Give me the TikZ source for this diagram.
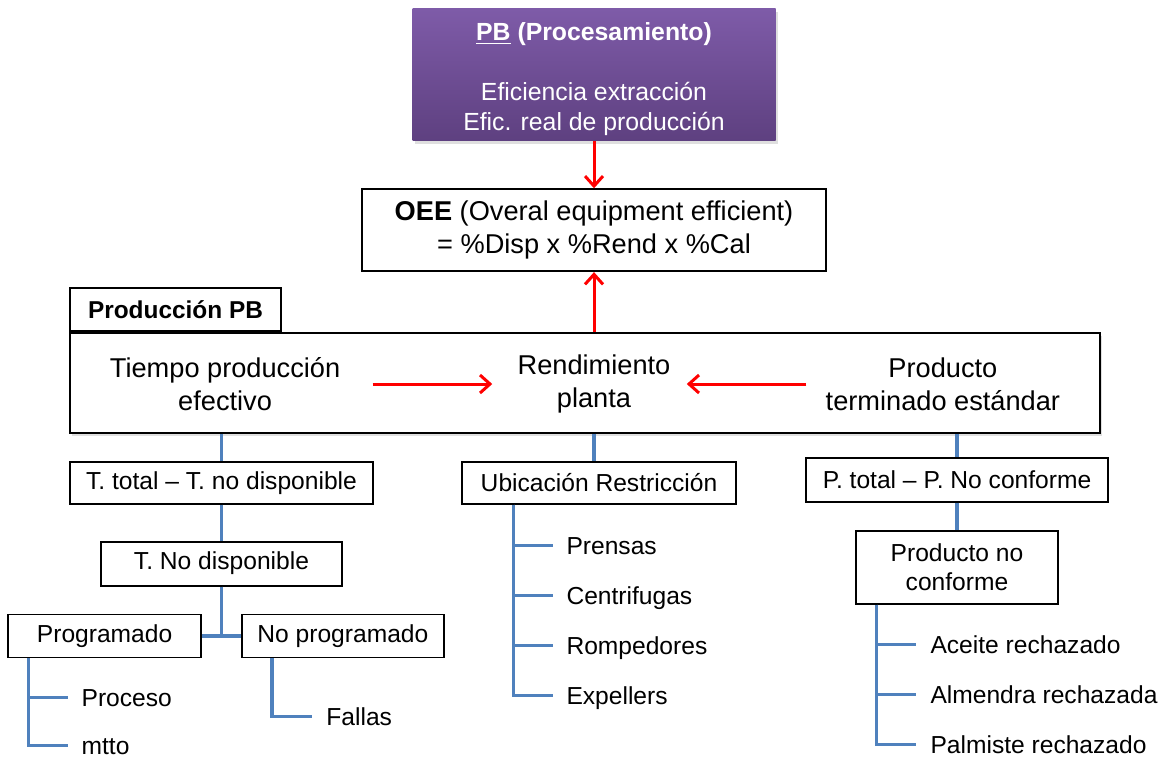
\documentclass[tikz,border=0pt]{standalone}
\usepackage{fontspec}
\setmainfont{Liberation Sans}
\usepackage{tikz}
\usetikzlibrary{positioning,arrows.meta,shadows}
\definecolor{pbtop}{RGB}{126,91,168}
\definecolor{pbbot}{RGB}{94,64,128}
\definecolor{treeblue}{RGB}{79,129,189}

\begin{document}
\begin{tikzpicture}[x=0.5pt, y=-0.5pt,
        box/.style={draw, line width=0.9pt, fill=white, inner sep=0pt, align=center,
                    font=\fontsize{12.3}{14.5}\selectfont},
        bigtext/.style={align=center, inner sep=0pt, font=\fontsize{13.6}{16.5}\selectfont},
        leaf/.style={inner sep=0pt, text height=8.8pt, text depth=0pt,
                     font=\fontsize{12.3}{14.5}\selectfont},
        boxshadow/.style={drop shadow={opacity=0.25, shadow xshift=1pt, shadow yshift=-1.5pt}},
        pbbox/.style={top color=pbtop, bottom color=pbbot, text=white, align=center,
                      minimum width=181.5pt, minimum height=66pt, inner sep=0pt,
                      font=\fontsize{12.4}{15}\selectfont, boxshadow},
        branch/.style={draw=treeblue, line width=1.6pt},
        redarrow/.style={draw=red, line width=1.5pt, -{Straight Barb[length=5pt,width=9pt]}}]
        \useasboundingbox (0,0) rectangle (1170,757);

        % produccion PB
        \node[box, boxshadow, minimum width=515pt, minimum height=50pt] (main) at (585,383) {};
        \node[box, minimum width=105.5pt, minimum height=21.5pt,
              font=\fontsize{12.2}{14.5}\selectfont\bfseries,
              above right=0pt and 0pt of main.north west] (tab) {Producción PB};
        \node[bigtext, right=78pt of main.west, anchor=center, yshift=-0.5pt] (tpe) {Tiempo producción\\efectivo};
        \node[bigtext, right=4.5pt of main.center, anchor=center, yshift=-0.5pt] (rend) {Rendimiento\\planta};
        \node[bigtext, left=79pt of main.east, anchor=center, yshift=-0.5pt] (pte) {Producto\\terminado estándar};

        \node[box, minimum width=232pt, minimum height=41pt, font=\fontsize{13.6}{16.5}\selectfont,
              above=30pt of main.north, xshift=4.5pt] (oee)
              {\textbf{OEE} (Overal equipment efficient)\\= \%Disp x \%Rend x \%Cal};
        \node[pbbox, above=23.5pt of oee] (pb)
              {\rule{0pt}{13pt}\textbf{\underline{PB} (Procesamiento)}\\[15pt] Eficiencia extracción\\Efic. real de producción};

        \draw[redarrow] (pb) -- (oee);
        \draw[redarrow] (rend |- main.north) -- (rend |- oee.south);
        \draw[redarrow] ([xshift=16pt]tpe.east) -- ([xshift=-12.5pt]rend.west);
        \draw[redarrow] ([xshift=-9.5pt]pte.west) -- ([xshift=8pt]rend.east);

        % tiempo
        \node[box, minimum width=151.5pt, minimum height=21pt,
              below right=13.5pt and 0pt of main.south west] (tt) {T. total – T. no disponible};
        \node[box, minimum width=120.5pt, minimum height=22pt, below=18pt of tt] (tnd) {T. No disponible};
        \node[box, minimum width=96.5pt, minimum height=21.5pt,
              below left=13.5pt and 9.75pt of tnd.south] (prog) {Programado};
        \node[box, minimum width=101pt, minimum height=21.5pt,
              below right=13.5pt and 9.75pt of tnd.south] (nprog) {No programado};
        \node[leaf, below right=19.5pt and 37pt of prog.south west, anchor=west] (proc) {Proceso};
        \node[leaf, below=24pt of proc.west, anchor=west] (mtto) {mtto};
        \node[leaf, below right=29pt and 42.5pt of nprog.south west, anchor=west] (fallas) {Fallas};

        % rendimiento
        \node[box, minimum width=137pt, minimum height=21pt,
              below=13.5pt of main.south, xshift=7pt] (ur) {Ubicación Restricción};
        \node[leaf, below right=20.5pt and 52.5pt of ur.south west, anchor=west] (prensas) {Prensas};
        \node[leaf, below=25pt of prensas.west, anchor=west] (centri) {Centrifugas};
        \node[leaf, below=25pt of centri.west, anchor=west] (rompe) {Rompedores};
        \node[leaf, below=25pt of rompe.west, anchor=west] (expel) {Expellers};

        % producto
        \node[box, minimum width=151pt, minimum height=22pt,
              below left=11.5pt and -4pt of main.south east] (ptot) {P. total – P. No conforme};
        \node[box, minimum width=101pt, minimum height=36.5pt, below=13.5pt of ptot] (pnc) {Producto no\\conforme};
        \node[leaf, below right=20pt and 37.5pt of pnc.south west, anchor=west] (aceite) {Aceite rechazado};
        \node[leaf, below=25pt of aceite.west, anchor=west] (almen) {Almendra rechazada};
        \node[leaf, below=25pt of almen.west, anchor=west] (palm) {Palmiste rechazado};

        \draw[branch] (tt.north |- main.south) -- (tt.north);
        \draw[branch] (tt) -- (tnd);
        \draw[branch] (tnd.south) |- (prog.east);
        \draw[branch] (tnd.south) |- (nprog.west);
        \draw[branch] ([xshift=10.5pt]prog.south west) |- ([xshift=-6.5pt]proc.west);
        \draw[branch] ([xshift=10.5pt]prog.south west) |- ([xshift=-6.5pt]mtto.west);
        \draw[branch] ([xshift=15.5pt]nprog.south west) |- ([xshift=-7pt]fallas.west);

        \draw[branch] (rend |- main.south) -- (rend |- ur.north);
        \draw[branch] ([xshift=26pt]ur.south west) |- ([xshift=-6.5pt]prensas.west);
        \draw[branch] ([xshift=26pt]ur.south west) |- ([xshift=-6.5pt]centri.west);
        \draw[branch] ([xshift=26pt]ur.south west) |- ([xshift=-6.5pt]rompe.west);
        \draw[branch] ([xshift=26pt]ur.south west) |- ([xshift=-6.5pt]expel.west);

        \draw[branch] (ptot.north |- main.south) -- (ptot.north);
        \draw[branch] (ptot) -- (pnc);
        \draw[branch] ([xshift=10.5pt]pnc.south west) |- ([xshift=-7pt]aceite.west);
        \draw[branch] ([xshift=10.5pt]pnc.south west) |- ([xshift=-7pt]almen.west);
        \draw[branch] ([xshift=10.5pt]pnc.south west) |- ([xshift=-7pt]palm.west);
    \end{tikzpicture}
\end{document}
